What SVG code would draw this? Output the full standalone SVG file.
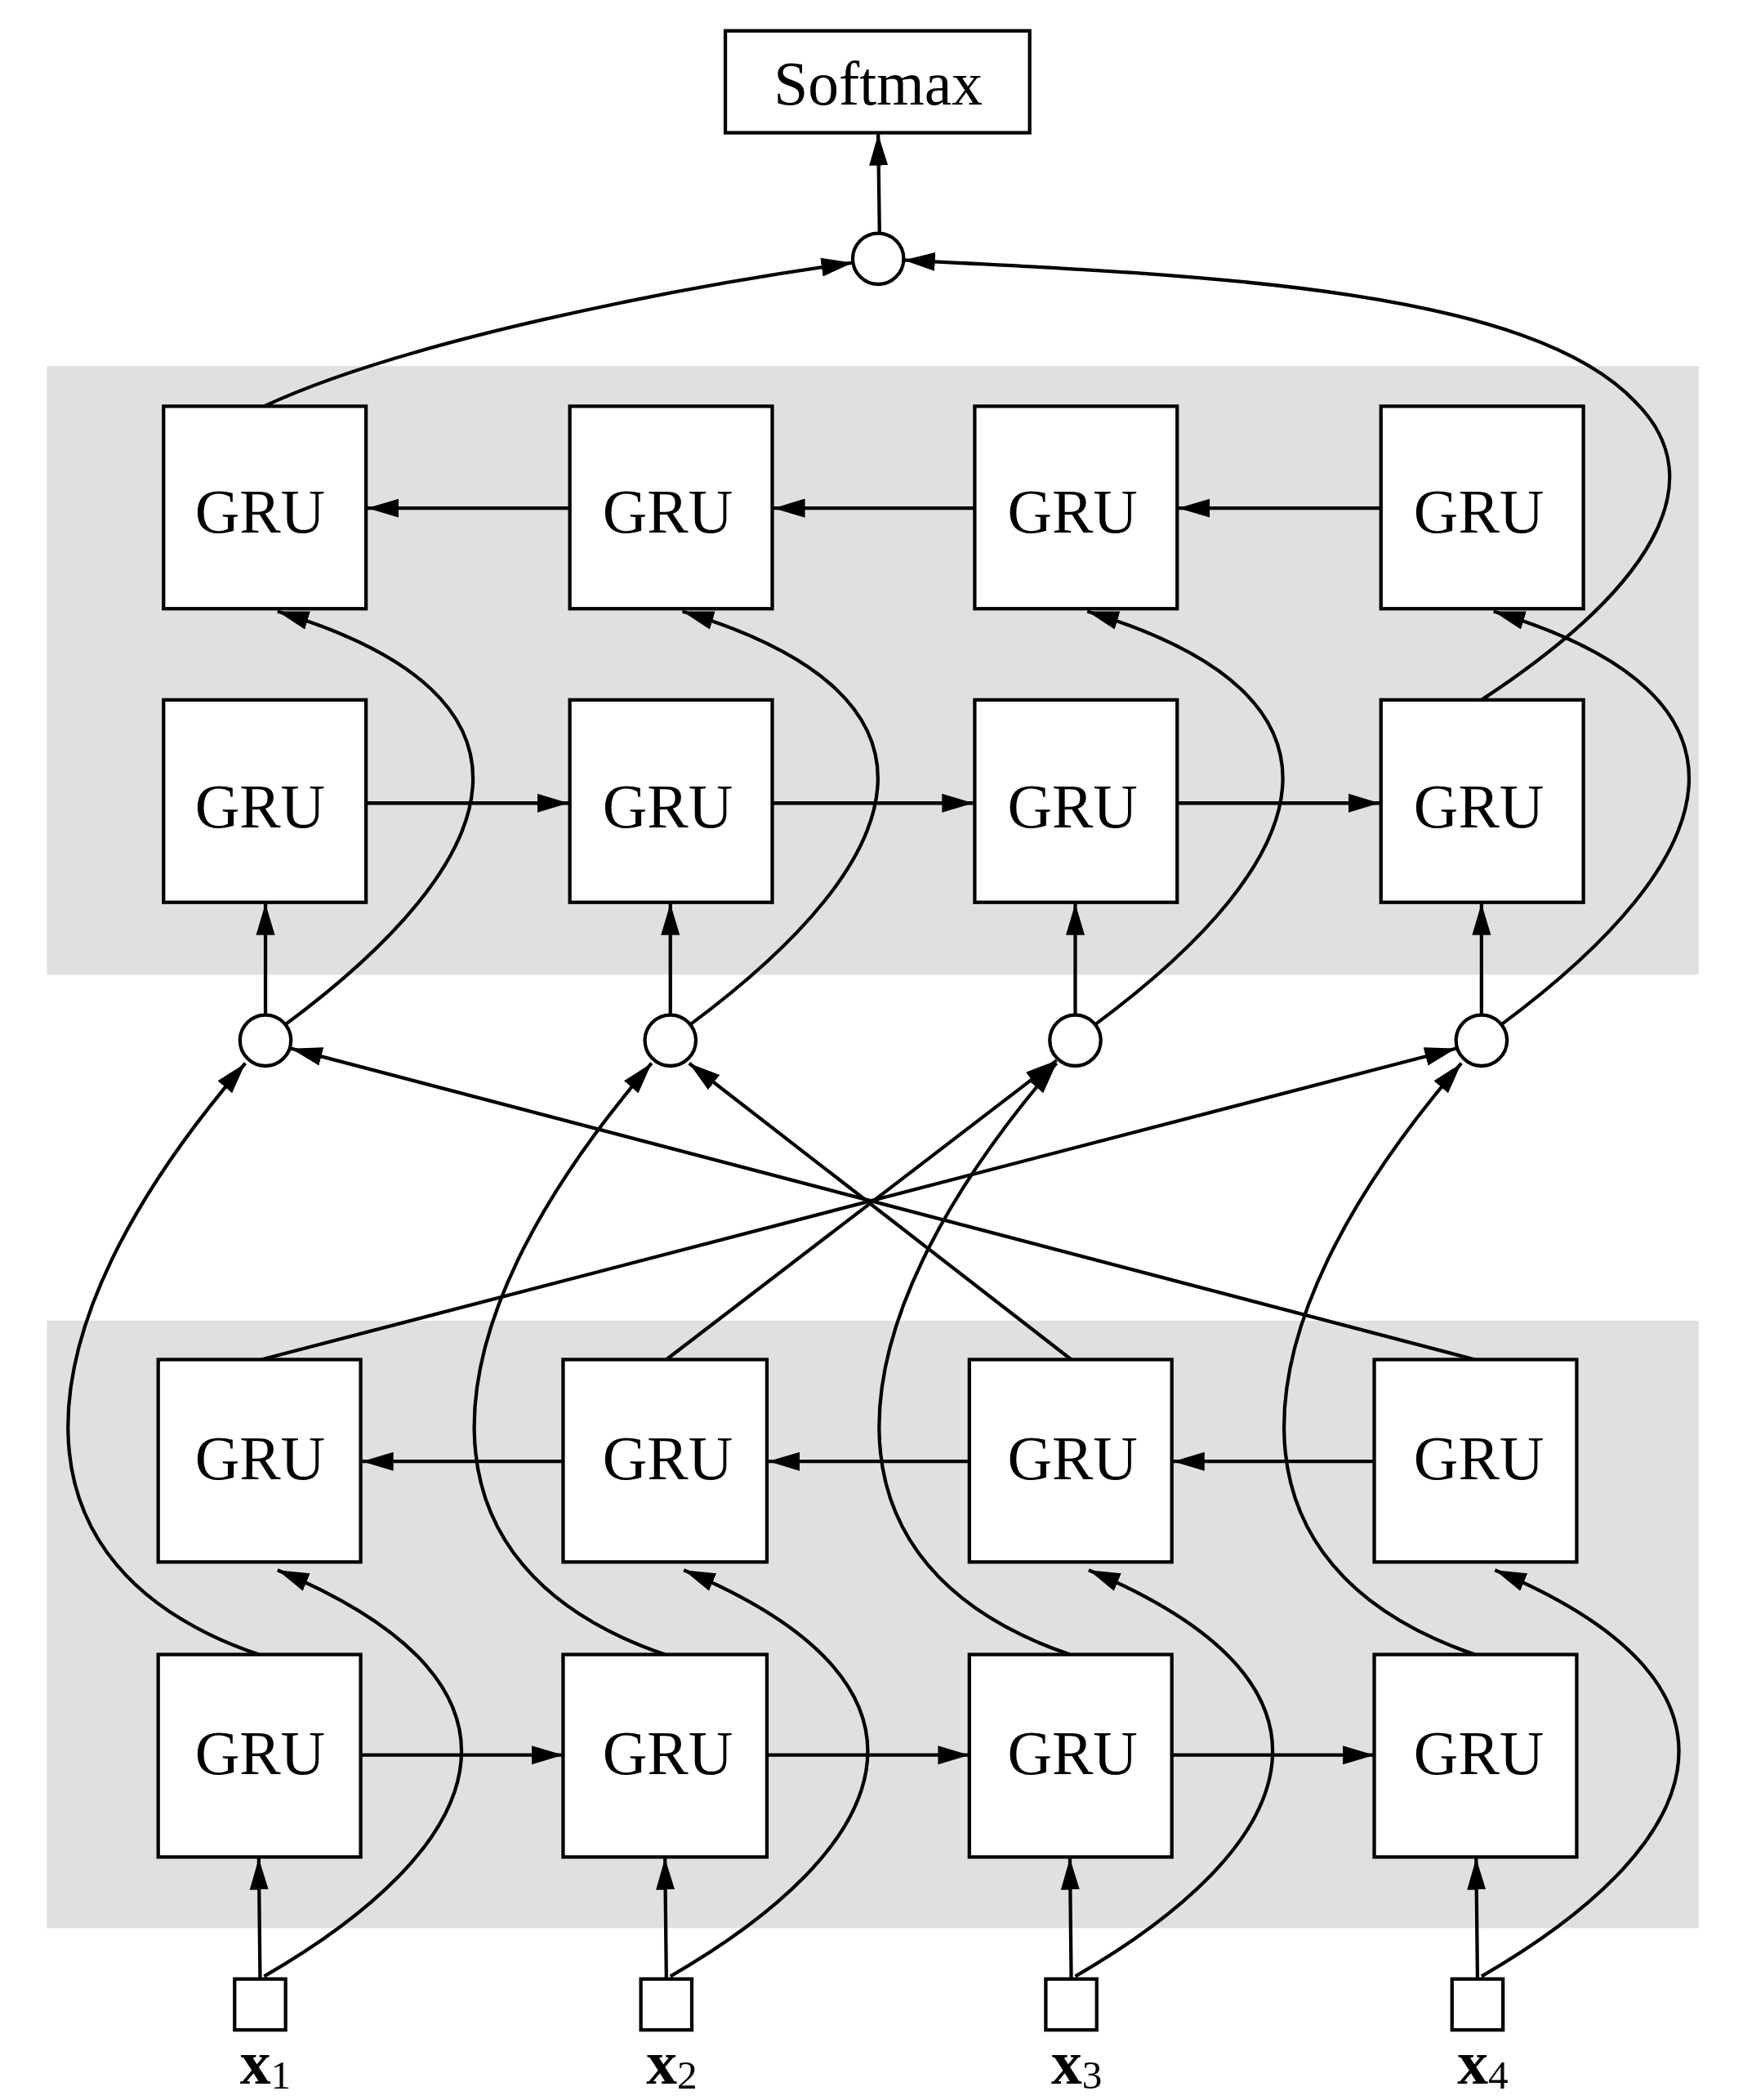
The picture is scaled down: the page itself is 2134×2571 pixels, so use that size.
<svg xmlns="http://www.w3.org/2000/svg" width="2134" height="2571" viewBox="0 0 2134 2571">
<style>
.bx{fill:#fff;stroke:#000;stroke-width:2.6}
.c{fill:none;stroke:#000;stroke-width:2.6}
.a{marker-end:url(#ah)}
.t{font-family:"Liberation Serif","DejaVu Serif",serif;font-size:46px;text-anchor:middle}
.bg{fill:#e0e0e0}
</style>
<defs><marker id="ah" viewBox="0 0 10 6" markerWidth="9" markerHeight="5.6" refX="10" refY="3" orient="auto" markerUnits="strokeWidth"><path d="M0,0L10,3L0,6z" fill="#000"/></marker></defs>
<rect width="2134" height="2571" fill="#fff"/>
<g transform="scale(1.6415)">
<rect class="bg" x="35" y="273" width="1232" height="454"/>
<rect class="bg" x="35" y="985" width="1232" height="453"/>
<g id="connectors">
<!-- inputs -->
<path class="c a" d="M194,1476L193,1386"/><path class="c a" d="M497,1476L496,1386"/><path class="c a" d="M799,1476L798,1386"/><path class="c a" d="M1102,1476L1101,1386"/>
<path class="c a" d="M197,1474C360,1380 420,1260 207,1171"/>
<path class="c a" d="M500,1474C663,1380 723,1260 510,1171"/>
<path class="c a" d="M802,1474C965,1380 1025,1260 812,1171"/>
<path class="c a" d="M1105,1474C1268,1380 1328,1260 1115,1171"/>
<!-- lower horizontals -->
<path class="c a" d="M269,1309L420,1309"/><path class="c a" d="M572,1309L723,1309"/><path class="c a" d="M874,1309L1025,1309"/>
<path class="c a" d="M420,1090L270,1090"/><path class="c a" d="M723,1090L573,1090"/><path class="c a" d="M1025,1090L875,1090"/>
<!-- row2 to circles -->
<path class="c a" d="M193,1234C5,1170 5,1000 183,793"/>
<path class="c a" d="M496,1234C308,1170 308,1000 486,793"/>
<path class="c a" d="M798,1234C610,1170 610,1000 788,793"/>
<path class="c a" d="M1100,1234C912,1170 912,1000 1090,793"/>
<!-- crossing -->
<path class="c a" d="M195,1014L1086,782"/>
<path class="c a" d="M497,1014L788,791"/>
<path class="c a" d="M799,1014L514,793"/>
<path class="c a" d="M1100,1014L217,782"/>
<!-- circles up -->
<path class="c a" d="M198,757L198,674"/><path class="c a" d="M500,757L500,674"/><path class="c a" d="M802,757L802,674"/><path class="c a" d="M1105,757L1105,674"/>
<path class="c a" d="M213,764C380,640 420,520 207,456"/>
<path class="c a" d="M515,764C682,640 722,520 509,456"/>
<path class="c a" d="M817,764C984,640 1024,520 811,456"/>
<path class="c a" d="M1120,764C1287,640 1327,520 1114,456"/>
<!-- upper horizontals -->
<path class="c a" d="M273,599L424,599"/><path class="c a" d="M576,599L726,599"/><path class="c a" d="M878,599L1029,599"/>
<path class="c a" d="M425,379L274,379"/><path class="c a" d="M727,379L577,379"/><path class="c a" d="M1030,379L879,379"/>
<!-- top -->
<path class="c a" d="M197,303C300,255 500,215 636,196"/>
<path class="c a" d="M1105,522C1230,440 1280,360 1220,300C1140,215 900,205 674,194"/>
<path class="c a" d="M656,174L655,100"/>
</g>
<g id="softmax"><rect class="bx" x="541" y="23" width="227" height="76"/><text class="t" x="655" y="78" font-size="42">Softmax</text></g>
<g id="sum"><circle class="bx" cx="655" cy="193" r="19"/></g>
<g id="upper">
<rect class="bx" x="122" y="303" width="151" height="151"/><text class="t" x="194" y="397">GRU</text>
<rect class="bx" x="425" y="303" width="151" height="151"/><text class="t" x="498" y="397">GRU</text>
<rect class="bx" x="727" y="303" width="151" height="151"/><text class="t" x="800" y="397">GRU</text>
<rect class="bx" x="1030" y="303" width="151" height="151"/><text class="t" x="1103" y="397">GRU</text>
<rect class="bx" x="122" y="522" width="151" height="151"/><text class="t" x="194" y="617">GRU</text>
<rect class="bx" x="425" y="522" width="151" height="151"/><text class="t" x="498" y="617">GRU</text>
<rect class="bx" x="727" y="522" width="151" height="151"/><text class="t" x="800" y="617">GRU</text>
<rect class="bx" x="1030" y="522" width="151" height="151"/><text class="t" x="1103" y="617">GRU</text>
</g>
<g id="circles">
<circle class="bx" cx="198" cy="776" r="19"/><circle class="bx" cx="500" cy="776" r="19"/><circle class="bx" cx="802" cy="776" r="19"/><circle class="bx" cx="1105" cy="776" r="19"/>
</g>
<g id="lower">
<rect class="bx" x="118" y="1014" width="151" height="151"/><text class="t" x="194" y="1103">GRU</text>
<rect class="bx" x="420" y="1014" width="152" height="151"/><text class="t" x="498" y="1103">GRU</text>
<rect class="bx" x="723" y="1014" width="151" height="151"/><text class="t" x="800" y="1103">GRU</text>
<rect class="bx" x="1025" y="1014" width="151" height="151"/><text class="t" x="1103" y="1103">GRU</text>
<rect class="bx" x="118" y="1234" width="151" height="151"/><text class="t" x="194" y="1323">GRU</text>
<rect class="bx" x="420" y="1234" width="152" height="151"/><text class="t" x="498" y="1323">GRU</text>
<rect class="bx" x="723" y="1234" width="151" height="151"/><text class="t" x="800" y="1323">GRU</text>
<rect class="bx" x="1025" y="1234" width="151" height="151"/><text class="t" x="1103" y="1323">GRU</text>
</g>
<g id="inputs">
<rect class="bx" x="175" y="1476" width="38" height="38"/><rect class="bx" x="478" y="1476" width="38" height="38"/><rect class="bx" x="780" y="1476" width="38" height="38"/><rect class="bx" x="1083" y="1476" width="38" height="38"/>
<text class="t" x="198" y="1554"><tspan font-weight="bold">x</tspan><tspan font-size="30" dy="4">1</tspan></text>
<text class="t" x="501" y="1554"><tspan font-weight="bold">x</tspan><tspan font-size="30" dy="4">2</tspan></text>
<text class="t" x="803" y="1554"><tspan font-weight="bold">x</tspan><tspan font-size="30" dy="4">3</tspan></text>
<text class="t" x="1106" y="1554"><tspan font-weight="bold">x</tspan><tspan font-size="30" dy="4">4</tspan></text>
</g>
</g>
</svg>
